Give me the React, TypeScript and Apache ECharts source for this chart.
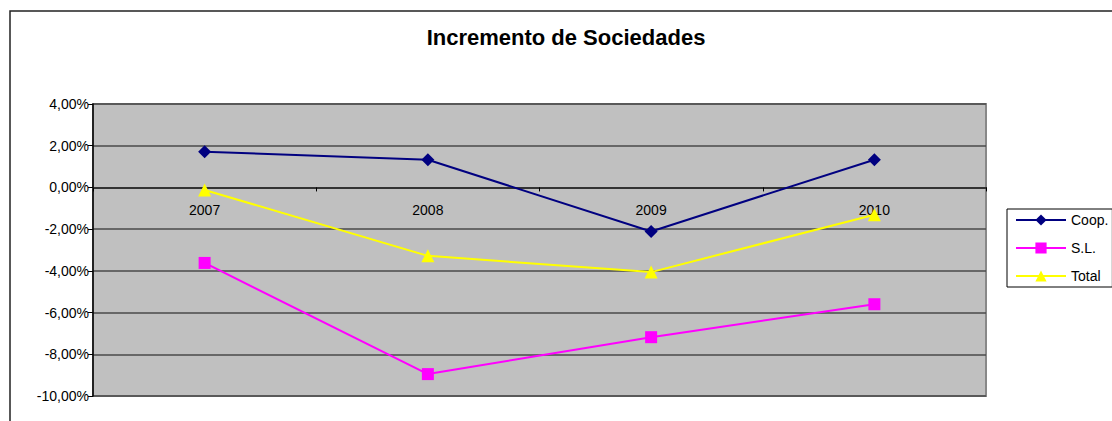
import React, { useEffect, useRef } from "react";
import * as echarts from "echarts";

const categories = ["2007", "2008", "2009", "2010"];
const coop = [1.71, 1.33, -2.11, 1.33];
const sl = [-3.62, -8.95, -7.18, -5.6];
const total = [-0.12, -3.28, -4.06, -1.31];
const yTicks = { min: -10, max: 4, interval: 2 };
const titleText = "Incremento de Sociedades";
const seriesNames = ["Coop.", "S.L.", "Total"];

const FONT = "Arial, 'Liberation Sans', sans-serif";

export default function App() {
  const ref = useRef<HTMLDivElement>(null);
  useEffect(() => {
    if (!ref.current) return;
    const chart = echarts.init(ref.current, null, { renderer: "svg" });
    const gridTop = 104;
    const gridBottom = 25;
    const plotH = 421 - gridTop - gridBottom;
    const zeroOffset = -(plotH * (0 - yTicks.min)) / (yTicks.max - yTicks.min);
    const mk = (name: string, data: number[], color: string, symbol: string, size: number) => ({
      name,
      type: "line",
      data,
      symbol,
      symbolSize: size,
      itemStyle: { color },
      lineStyle: { color, width: 2 },
      emphasis: { disabled: true },
      z: 3,
    });
    chart.setOption({
      animation: false,
      textStyle: { fontFamily: FONT },
      graphic: [
        {
          type: "rect",
          shape: { x: 10, y: 11, width: 1200, height: 500 },
          style: { fill: "none", stroke: "#222", lineWidth: 1.5 },
          silent: true,
        },
        {
          type: "text",
          x: 566,
          y: 37,
          style: {
            text: titleText,
            font: `bold 22px ${FONT}`,
            fill: "#000",
            textAlign: "center",
            textVerticalAlign: "middle",
          },
        },
      ],
      grid: {
        left: 93,
        right: 126,
        top: gridTop,
        bottom: gridBottom,
        show: true,
        backgroundColor: "#c0c0c0",
        borderColor: "#888888",
        borderWidth: 2,
      },
      legend: {
        orient: "vertical",
        left: 1007,
        top: 209,
        data: seriesNames,
        itemWidth: 50,
        itemHeight: 14,
        itemGap: 14,
        padding: [4, 4, 4, 8],
        borderColor: "#000",
        borderWidth: 1,
        backgroundColor: "#fff",
        textStyle: { fontSize: 14, color: "#000", fontFamily: FONT },
      },
      xAxis: {
        type: "category",
        data: categories,
        boundaryGap: true,
        position: "bottom",
        offset: zeroOffset,
        axisLine: { onZero: false, lineStyle: { color: "#333", width: 2 } },
        axisTick: { show: true, length: 4, alignWithLabel: false, lineStyle: { color: "#000" } },
        axisLabel: { margin: 16, fontSize: 14, color: "#000", fontFamily: FONT },
        splitLine: { show: false },
      },
      yAxis: {
        type: "value",
        min: yTicks.min,
        max: yTicks.max,
        interval: yTicks.interval,
        axisLine: { show: true, onZero: false, lineStyle: { color: "#000", width: 1.5 } },
        axisTick: { show: true, length: 5, lineStyle: { color: "#000" } },
        axisLabel: {
          margin: 4,
          fontSize: 14,
          color: "#000",
          fontFamily: FONT,
          formatter: (v: number) => v.toFixed(2).replace(".", ",") + "%",
        },
        splitLine: { show: true, lineStyle: { color: "#4a4a4a", width: 1.5 } },
      },
      series: [
        mk(seriesNames[0], coop, "#000080", "diamond", 13),
        mk(seriesNames[1], sl, "#ff00ff", "rect", 12),
        mk(seriesNames[2], total, "#ffff00", "triangle", 13),
      ],
    });
    return () => chart.dispose();
  }, []);
  return (
    <div
      ref={ref}
      style={{ position: "absolute", left: 0, top: 0, width: 1112, height: 421, background: "#fff" }}
    />
  );
}
